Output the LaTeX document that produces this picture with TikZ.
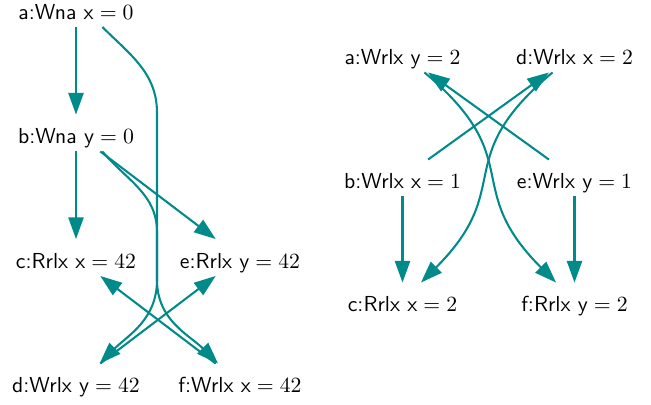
\documentclass[tikz,border=0pt]{standalone}
\usepackage{tikz}
\usetikzlibrary{arrows.meta}
\definecolor{edgeteal}{RGB}{0,139,138}

\begin{document}
\begin{tikzpicture}[
  x=0.4608pt, y=-0.4608pt,
  every node/.style = {font=\sffamily, inner xsep=3pt, inner ysep=2.3pt, text height=11pt, text depth=1pt},
  arr/.style = {-{Triangle[length=10pt,width=7pt]}, line width=0.95pt, draw=edgeteal},
]
\useasboundingbox (0,0) rectangle (651,404);
% Left graph
\node (la) at (76,8.5)   {a:Wna x${}=0$};
\node (lb) at (76,133)   {b:Wna y${}=0$};
\node (lc) at (76,257.5) {c:Rrlx x${}=42$};
\node (le) at (240,257.5) {e:Rrlx y${}=42$};
\node (ld) at (76,382)   {d:Wrlx y${}=42$};
\node (lf) at (240,382)  {f:Wrlx x${}=42$};
% Via points of the long curves
\coordinate (laf1) at (157,113);
\coordinate (laf2) at (157,280);
\coordinate (lbd1) at (157,232);
\coordinate (lbd2) at (157,280);
% Left arrows
\draw[arr] (la) -- (lb);
\draw[arr] (lb) -- (lc);
\draw[arr] (lb) -- (le);
\draw[arr] (lf) -- (lc);
\draw[arr] (ld) -- (le);
\draw[arr] (la.-35) to[out=-45, in=90] (laf1) -- (laf2) to[out=-90, in=135] (lf.140);
\draw[arr] (lb.-35) to[out=-50, in=90] (lbd1) -- (lbd2) to[out=-90, in=45] (ld.38);
% Right graph
\node (ra) at (402.5,54)  {a:Wrlx y${}=2$};
\node (rd) at (574.5,54)  {d:Wrlx x${}=2$};
\node (rb) at (402.5,178) {b:Wrlx x${}=1$};
\node (re) at (574.5,178) {e:Wrlx y${}=1$};
\node (rc) at (402.5,301) {c:Rrlx x${}=2$};
\node (rf) at (574.5,301) {f:Rrlx y${}=2$};
% Right arrows
\draw[arr] (rb) -- (rc);
\draw[arr] (re) -- (rf);
\draw[arr] (rb) -- (rd);
\draw[arr] (re) -- (ra);
\draw[arr] (ra.-40) to[out=-40, in=135, looseness=1.4] (rf.135);
\draw[arr] (rd.-140) to[out=-140, in=45, looseness=1.4] (rc.45);
\end{tikzpicture}
\end{document}
